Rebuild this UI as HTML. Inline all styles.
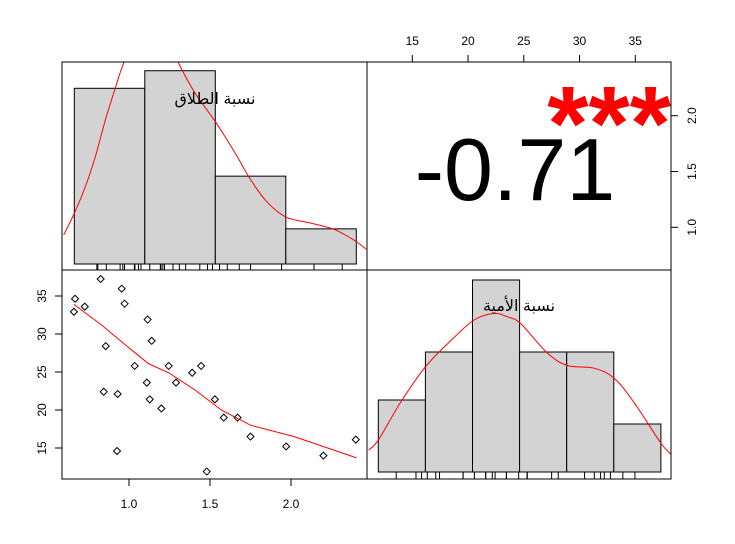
<!DOCTYPE html>
<html><head><meta charset="utf-8">
<style>body{margin:0;background:#fff}svg{display:block}text{font-family:"Liberation Sans","DejaVu Sans",sans-serif}</style>
</head><body>
<svg id="c" width="735" height="544" xmlns="http://www.w3.org/2000/svg"></svg>
<script>
const divorce=[0.66,0.667,0.727,0.825,0.856,0.844,0.926,0.93,0.955,0.973,1.035,1.115,1.14,1.11,1.128,1.2,1.245,1.29,1.39,1.445,1.53,1.48,1.585,1.67,1.75,1.97,2.2,2.4];
const literacy=[32.93,34.64,33.6,37.24,28.4,22.4,14.6,22.1,35.96,33.99,25.8,31.9,29.1,23.6,21.4,20.2,25.8,23.6,24.9,25.8,21.4,11.9,19.0,19.0,16.5,15.2,14.0,16.1];
const smoothX=[0.66,0.83,0.97,1.12,1.245,1.41,1.57,1.75,2.02,2.405];
const smoothY=[33.9,31.2,28.7,26.1,24.9,22.6,20.0,18.0,16.5,13.7];
const densDX=[0.425,0.5,0.578,0.649,0.72,0.79,0.85,0.95,1.05,1.15,1.24,1.357,1.5,1.642,1.737,1.855,1.997,2.186,2.35,2.5,2.57];
const densDY=[0.118,0.206,0.314,0.436,0.585,0.714,0.816,0.93,0.98,0.93,0.816,0.694,0.579,0.45,0.355,0.26,0.192,0.165,0.139,0.091,0.06];
const densLX=[8.98,10,12.34,15,17.66,20.15,22.28,23.69,25.1,27.95,30.07,32.9,35.04,37.17,40,41.13];
const densLY=[0.00655,0.0095,0.0206,0.0313,0.039,0.0452,0.0472,0.0462,0.0442,0.0354,0.0317,0.0309,0.0279,0.0206,0.0086,0.0051];
const xTicks=[1.0,1.5,2.0], xTickLabels=["1.0","1.5","2.0"];
const yTicks=[15,20,25,30,35], yTickLabels=["15","20","25","30","35"];
const topTicks=[15,20,25,30,35], rightTicks=[1.0,1.5,2.0], rightTickLabels=["1.0","1.5","2.0"];
const corrLabel="-0.71", stars="***";

const NS="http://www.w3.org/2000/svg", svg=document.getElementById('c');
function mk(t,a,p){const e=document.createElementNS(NS,t);for(const k in a)e.setAttribute(k,a[k]);(p||svg).appendChild(e);return e;}
function smoothPath(pts){let d='M'+pts[0][0]+','+pts[0][1];
 for(let i=0;i<pts.length-1;i++){const p0=pts[Math.max(0,i-1)],p1=pts[i],p2=pts[i+1],p3=pts[Math.min(pts.length-1,i+2)];
  d+=` C${p1[0]+(p2[0]-p0[0])/6},${p1[1]+(p2[1]-p0[1])/6} ${p2[0]-(p3[0]-p1[0])/6},${p2[1]-(p3[1]-p1[1])/6} ${p2[0]},${p2[1]}`;}
 return d;}
const L=62,M=367,R=671,T=62,H=270,B=479;
const sx=v=>129+(v-1)*162, sy=v=>296+(35-v)*7.6;
const hdx=v=>74.3+(v-0.5)*141, hdy=d=>264-d*246;
const hlx=v=>378.3+(v-10)*9.42, hly=d=>472-d*3360;
const tx=v=>412.3+(v-15)*11.15, ry=v=>227.3-(v-1)*111.6;
const defs=mk('defs',{});
const c1=mk('clipPath',{id:'p1'},defs);mk('rect',{x:L,y:T,width:M-L,height:H-T},c1);
const c2=mk('clipPath',{id:'p4'},defs);mk('rect',{x:M,y:H,width:R-M,height:B-H},c2);
const c3=mk('clipPath',{id:'p3'},defs);mk('rect',{x:L,y:H,width:M-L,height:B-H},c3);

const g1=mk('g',{'clip-path':'url(#p1)'});
const e1=[0.5,1.0,1.5,2.0,2.5];
for(let i=0;i<4;i++){const n=divorce.filter(v=>v>=e1[i]&&v<e1[i+1]).length;const d=n/(divorce.length*0.5);
 const r=mk('rect',{x:hdx(e1[i]),y:hdy(d),width:hdx(e1[i+1])-hdx(e1[i]),height:264-hdy(d),fill:'#d3d3d3',stroke:'#000','stroke-width':1},g1);
 }
divorce.forEach(v=>{const l=mk('line',{x1:hdx(v),x2:hdx(v),y1:264,y2:271,stroke:'#000','stroke-width':1},g1);});
const p1=mk('path',{d:smoothPath(densDX.map((v,i)=>[hdx(v),hdy(densDY[i])])),fill:'none',stroke:'#f00','stroke-width':1},g1);

const t1=mk('text',{x:215,y:104,'text-anchor':'middle','font-size':16,fill:'#000'});t1.textContent='نسبة الطلاق';


const g4=mk('g',{'clip-path':'url(#p4)'});
const e2=[10,15,20,25,30,35,40];
for(let i=0;i<6;i++){const n=literacy.filter(v=>v>=e2[i]&&v<e2[i+1]).length;const d=n/(literacy.length*5);
 const r=mk('rect',{x:hlx(e2[i]),y:hly(d),width:hlx(e2[i+1])-hlx(e2[i]),height:472-hly(d),fill:'#d3d3d3',stroke:'#000','stroke-width':1},g4);
 }
literacy.forEach(v=>{const l=mk('line',{x1:hlx(v),x2:hlx(v),y1:472,y2:480,stroke:'#000','stroke-width':1},g4);});
const p4=mk('path',{d:smoothPath(densLX.map((v,i)=>[hlx(v),hly(densLY[i])])),fill:'none',stroke:'#f00','stroke-width':1},g4);

const t4=mk('text',{x:519,y:311,'text-anchor':'middle','font-size':16,fill:'#000'});t4.textContent='نسبة الأمية';


const g3=mk('g',{'clip-path':'url(#p3)'});
divorce.forEach((v,i)=>{const x=sx(v),y=sy(literacy[i]);const p=mk('polygon',{points:`${x},${y-3.5} ${x+3.5},${y} ${x},${y+3.5} ${x-3.5},${y}`,fill:'none',stroke:'#000','stroke-width':1},g3);
 });
const p3=mk('polyline',{points:smoothX.map((v,i)=>sx(v)+','+sy(smoothY[i])).join(' '),fill:'none',stroke:'#f00','stroke-width':1},g3);


const ct=mk('text',{x:515,y:200,'text-anchor':'middle','font-size':88,fill:'#000'});ct.textContent=corrLabel;

const st=mk('text',{x:671,y:160,'text-anchor':'end','font-size':106,'font-weight':'bold',fill:'#f00'});st.textContent=stars;


[[L,T,M,H],[M,T,R,H],[L,H,M,B],[M,H,R,B]].forEach((b,i)=>{const r=mk('rect',{x:b[0],y:b[1],width:b[2]-b[0],height:b[3]-b[1],fill:'none',stroke:'#000','stroke-width':1});
 });

const ax=mk('g',{stroke:'#000','stroke-width':1});
mk('line',{x1:sx(xTicks[0]),x2:sx(xTicks[xTicks.length-1]),y1:B,y2:B},ax);
xTicks.forEach((v,i)=>{mk('line',{x1:sx(v),x2:sx(v),y1:B,y2:B+7},ax);const t=mk('text',{x:sx(v),y:508,'text-anchor':'middle','font-size':12,stroke:'none',fill:'#000'});t.textContent=xTickLabels[i];});
mk('line',{x1:L,x2:L,y1:sy(yTicks[0]),y2:sy(yTicks[yTicks.length-1])},ax);
yTicks.forEach((v,i)=>{mk('line',{x1:L-7,x2:L,y1:sy(v),y2:sy(v)},ax);const t=mk('text',{x:0,y:0,transform:`translate(46,${sy(v)}) rotate(-90)`,'text-anchor':'middle','font-size':12,stroke:'none',fill:'#000'});t.textContent=yTickLabels[i];});
mk('line',{x1:tx(topTicks[0]),x2:tx(topTicks[topTicks.length-1]),y1:T,y2:T},ax);
topTicks.forEach(v=>{mk('line',{x1:tx(v),x2:tx(v),y1:T-7,y2:T},ax);const t=mk('text',{x:tx(v),y:45,'text-anchor':'middle','font-size':12,stroke:'none',fill:'#000'});t.textContent=String(v);});
mk('line',{x1:R,x2:R,y1:ry(rightTicks[0]),y2:ry(rightTicks[rightTicks.length-1])},ax);
rightTicks.forEach((v,i)=>{mk('line',{x1:R,x2:R+7,y1:ry(v),y2:ry(v)},ax);const t=mk('text',{x:0,y:0,transform:`translate(696,${ry(v)}) rotate(-90)`,'text-anchor':'middle','font-size':12,stroke:'none',fill:'#000'});t.textContent=rightTickLabels[i];});
</script>
</body></html>
